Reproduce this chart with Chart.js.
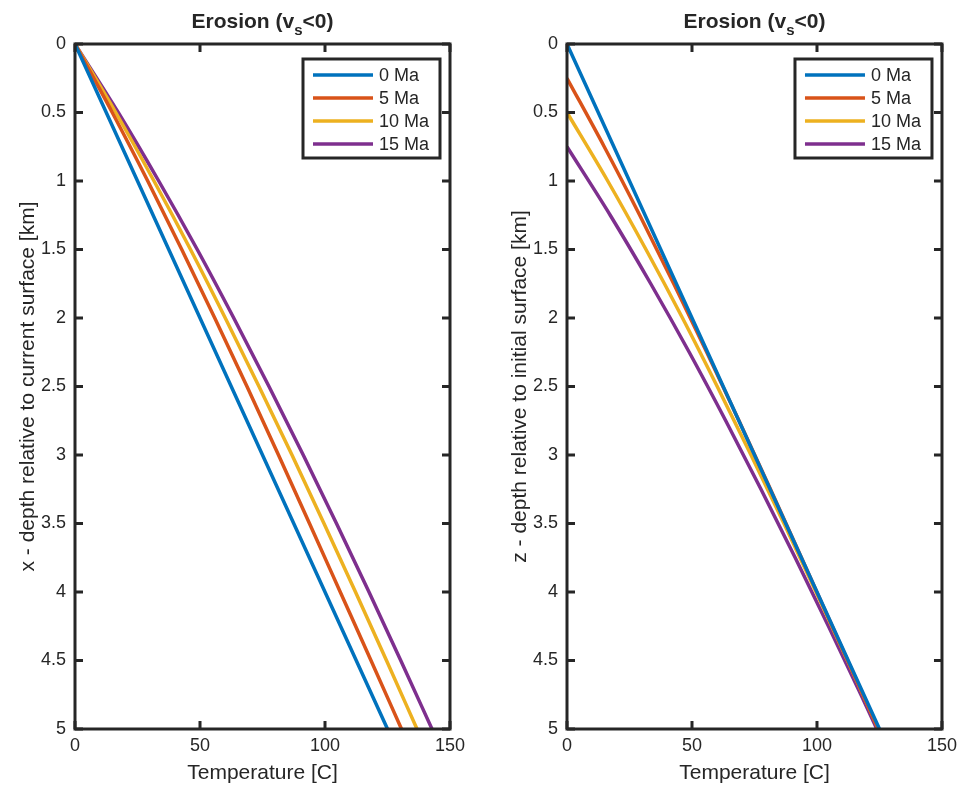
<!DOCTYPE html>
<html>
<head>
<meta charset="utf-8">
<script src="https://cdn.jsdelivr.net/npm/chart.js@4.4.1/dist/chart.umd.min.js"></script>
<style>
  body { margin: 0; background: #fff; }
  #wrap { position: relative; width: 963px; height: 790px; }
  canvas { position: absolute; top: 0; }
</style>
</head>
<body>
<div id="wrap">
  <canvas id="leftChart" style="left:0"></canvas>
  <canvas id="rightChart" style="left:481px"></canvas>
</div>
<script>
// depth below current surface [km]
const depthKm = [0, 0.5, 1, 1.5, 2, 2.5, 3, 3.5, 4, 4.5, 5];
// temperature [C] at each depth
const temp0Ma = [0, 12.5, 25, 37.5, 50, 62.5, 75, 87.5, 100, 112.5, 125];
const temp5Ma = [0, 14.9, 29.1, 42.7, 55.9, 68.8, 81.4, 93.8, 106.1, 118.4, 130.6];
const temp10Ma = [0, 16.3, 31.6, 46.2, 60.1, 73.6, 86.8, 99.6, 112.2, 124.6, 136.8];
const temp15Ma = [0, 17.3, 33.5, 48.9, 63.5, 77.6, 91.3, 104.6, 117.6, 130.3, 142.8];
// depth of current surface below initial surface [km]
const surfaceDrop = [0, 0.25, 0.5, 0.75];
const ageLabels = ["0 Ma", "5 Ma", "10 Ma", "15 Ma"];
const tempTicks = [0, 50, 100, 150];
const depthTicks = [0, 0.5, 1, 1.5, 2, 2.5, 3, 3.5, 4, 4.5, 5];

const colors = ["#0072BD", "#D95319", "#EDB120", "#7E2F8E"];
const INK = "#262626";
const FONT = "'Liberation Sans', Arial, Helvetica, sans-serif";
const allTemps = [temp0Ma, temp5Ma, temp10Ma, temp15Ma];

// frame, inward ticks, title, axis titles and legend, MATLAB style
const matlabAxes = {
  id: "matlabAxes",
  afterDraw(chart, args, opts) {
    const { ctx, chartArea: a, scales } = chart;
    ctx.save();
    ctx.strokeStyle = INK;
    ctx.lineWidth = 3;
    ctx.beginPath();
    scales.x.ticks.forEach(t => {
      const px = scales.x.getPixelForValue(t.value);
      ctx.moveTo(px, a.bottom); ctx.lineTo(px, a.bottom - 8);
      ctx.moveTo(px, a.top); ctx.lineTo(px, a.top + 8);
    });
    scales.y.ticks.forEach(t => {
      const py = scales.y.getPixelForValue(t.value);
      ctx.moveTo(a.left, py); ctx.lineTo(a.left + 8, py);
      ctx.moveTo(a.right, py); ctx.lineTo(a.right - 8, py);
    });
    ctx.stroke();
    ctx.strokeRect(a.left, a.top, a.width, a.height);

    // title with subscript
    ctx.fillStyle = INK;
    ctx.textBaseline = "alphabetic";
    ctx.textAlign = "left";
    const big = "bold 21px " + FONT, small = "bold 15px " + FONT;
    ctx.font = big;
    const w1 = ctx.measureText("Erosion (v").width;
    const w3 = ctx.measureText("<0)").width;
    ctx.font = small;
    const w2 = ctx.measureText("s").width;
    let tx = (a.left + a.right) / 2 - (w1 + w2 + w3) / 2;
    ctx.font = big;
    ctx.fillText("Erosion (v", tx, 28);
    ctx.font = small;
    ctx.fillText("s", tx + w1, 35);
    ctx.font = big;
    ctx.fillText("<0)", tx + w1 + w2, 28);

    // axis titles
    ctx.font = "21px " + FONT;
    ctx.textAlign = "center";
    ctx.textBaseline = "middle";
    ctx.fillText("Temperature [C]", (a.left + a.right) / 2, 773);
    ctx.save();
    ctx.translate(opts.yTitleX, (a.top + a.bottom) / 2);
    ctx.rotate(-Math.PI / 2);
    ctx.fillText(opts.yTitle, 0, 0);
    ctx.restore();

    // legend box
    const bw = 137, bh = 99;
    const bx = a.right - 10 - bw, by = a.top + 15;
    ctx.fillStyle = "#fff";
    ctx.fillRect(bx, by, bw, bh);
    ctx.lineWidth = 3;
    ctx.strokeRect(bx, by, bw, bh);
    ctx.font = "18px " + FONT;
    ctx.textAlign = "left";
    ageLabels.forEach((lab, i) => {
      const ry = by + 16 + i * 23;
      ctx.strokeStyle = colors[i];
      ctx.lineWidth = 3.5;
      ctx.beginPath();
      ctx.moveTo(bx + 10, ry); ctx.lineTo(bx + 70, ry);
      ctx.stroke();
      ctx.fillStyle = INK;
      ctx.fillText(lab, bx + 76, ry + 1);
    });
    ctx.restore();
  }
};

function makePanel(id, w, shiftDepth, yTitle, yTitleX, yWidth, padRight) {
  const canvas = document.getElementById(id);
  canvas.width = w; canvas.height = 790;
  canvas.style.width = w + "px"; canvas.style.height = "790px";
  const datasets = allTemps.map((temps, k) => ({
    label: ageLabels[k],
    data: depthKm.map((d, i) => ({ x: temps[i], y: d + (shiftDepth ? surfaceDrop[k] : 0) })),
    showLine: true,
    borderColor: colors[k],
    backgroundColor: colors[k],
    borderWidth: 3.5,
    pointRadius: 0,
    cubicInterpolationMode: "monotone",
  }));
  return new Chart(canvas.getContext("2d"), {
    type: "scatter",
    data: { datasets },
    options: {
      responsive: false,
      animation: false,
      layout: { padding: { left: 0, right: padRight, top: 44, bottom: 0 } },
      plugins: {
        legend: { display: false },
        tooltip: { enabled: false },
        matlabAxes: { yTitle, yTitleX },
      },
      scales: {
        x: {
          type: "linear", min: 0, max: 150,
          afterBuildTicks: s => { s.ticks = tempTicks.map(v => ({ value: v })); },
          grid: { display: false, drawTicks: false },
          border: { display: false },
          ticks: { color: INK, font: { size: 18, family: FONT }, padding: 6, maxRotation: 0,
                   callback: v => String(v) },
          afterFit: s => { s.height = 61; },
        },
        y: {
          type: "linear", min: 0, max: 5, reverse: true,
          afterBuildTicks: s => { s.ticks = depthTicks.map(v => ({ value: v })); },
          grid: { display: false, drawTicks: false },
          border: { display: false },
          ticks: { color: INK, font: { size: 18, family: FONT }, padding: 9,
                   callback: v => String(v) },
          afterFit: s => { s.width = yWidth; },
        },
      },
    },
    plugins: [matlabAxes],
  });
}

makePanel("leftChart", 481, false, "x - depth relative to current surface [km]", 28, 75, 31);
makePanel("rightChart", 482, true, "z - depth relative to initial surface [km]", 39, 86, 21);
</script>
</body>
</html>
